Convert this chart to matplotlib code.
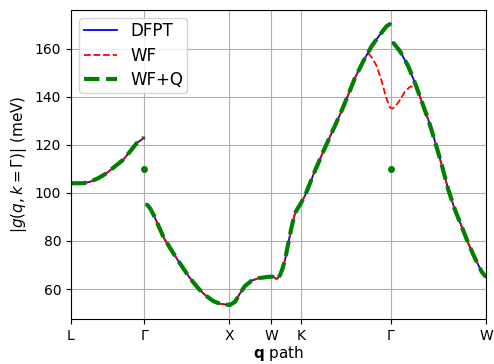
import numpy as np
import matplotlib
matplotlib.use("Agg")
import matplotlib.pyplot as plt

nan = np.nan

# high-symmetry points along the q path (FCC, units of 2pi/a)
tick_labels = ["L", r"$\Gamma$", "X", "W", "K", r"$\Gamma$", "W"]
tick_pos = [0.0, 0.866, 1.866, 2.366, 2.720, 3.781, 4.899]

# DFPT: |g| along path (NaN = break at Gamma)
q_dfpt = [0.000, 0.145, 0.224, 0.322, 0.421, 0.519, 0.617, 0.697, 0.776, 0.835, 0.862,
          0.866,
          0.890, 0.933, 0.980, 1.019, 1.059, 1.098, 1.149, 1.208, 1.267, 1.326, 1.385,
          1.444, 1.503, 1.562, 1.621, 1.680, 1.759, 1.838, 1.877, 1.936, 1.995, 2.054,
          2.133, 2.211, 2.329, 2.385, 2.420, 2.438, 2.467, 2.497, 2.526, 2.565, 2.605,
          2.644, 2.675, 2.703, 2.762, 2.821, 2.880, 2.978, 3.077, 3.175, 3.273, 3.352,
          3.450, 3.549, 3.647, 3.726, 3.773,
          3.781,
          3.800, 3.884, 3.982, 4.061, 4.140, 4.218, 4.297, 4.376, 4.454, 4.533, 4.612,
          4.690, 4.769, 4.848, 4.899]
g_dfpt = [104.0, 104.0, 104.6, 106.1, 108.2, 111.0, 113.8, 117.2, 120.7, 122.2, 123.0,
          nan,
          95.4, 93.6, 90.5, 87.4, 84.2, 81.1, 78.3, 74.9, 71.7, 68.6, 65.5,
          62.8, 60.3, 58.2, 56.5, 55.0, 53.9, 53.5, 53.4, 54.7, 58.2, 61.3,
          63.5, 64.5, 65.1, 65.1, 64.3, 64.4, 65.8, 68.5, 72.1, 79.0, 86.0,
          91.5, 93.5, 95.0, 98.8, 104.0, 109.2, 117.2, 124.9, 132.5, 140.8, 147.8,
          154.7, 161.0, 165.8, 169.3, 170.4,
          nan,
          162.6, 158.9, 152.6, 145.7, 138.0, 130.4, 121.4, 111.7, 101.3, 92.9, 86.0,
          79.0, 72.8, 67.2, 65.0]

# WF+Q coincides with DFPT everywhere in the reference
q_wfq = q_dfpt
g_wfq = g_dfpt

# WF deviates from DFPT around the second Gamma (continuous there)
q_wf_dev = [3.450, 3.490, 3.515, 3.553, 3.608, 3.668, 3.719, 3.766, 3.793, 3.830,
            3.880, 3.940, 4.000, 4.040, 4.081]
g_wf_dev = [154.7, 157.5, 157.8, 156.2, 152.8, 146.4, 139.8, 135.5, 135.0, 136.0,
            138.5, 142.0, 144.1, 144.2, 143.6]

# WF+Q value exactly at Gamma (dots)
q_gamma_dots = [0.866, 3.781]
g_gamma_dots = [110.0, 110.0]

q_wf = [q for q in q_dfpt if q < 3.45] + q_wf_dev + [q for q in q_dfpt if q > 4.09]
g_wf = ([g for q, g in zip(q_dfpt, g_dfpt) if q < 3.45] + g_wf_dev +
        [g for q, g in zip(q_dfpt, g_dfpt) if q > 4.09])

fig = plt.figure(figsize=(4.94, 3.64), dpi=100)
ax = fig.add_subplot(111)
fig.subplots_adjust(left=71/494, right=486/494, bottom=1-319/364, top=1-9.5/364)

ax.plot(q_dfpt, g_dfpt, color="b", lw=1.3, label="DFPT")
ax.plot(q_wf, g_wf, color="r", lw=1.3, ls="--", label="WF")
ax.plot(q_wfq, g_wfq, color="g", lw=3, ls="--", label="WF+Q")
ax.plot(q_gamma_dots, g_gamma_dots, "o", color="g", ms=4, label="_nolegend_")

ax.set_xlim(tick_pos[0], tick_pos[-1])
ax.set_xticks(tick_pos)
ax.set_xticklabels(tick_labels)
ax.grid(True)
ax.tick_params(labelsize=10)
ax.set_xlabel(r"$\mathbf{q}$ path", fontsize=11, labelpad=1)
ax.set_ylabel(r"$|g(q, k=\Gamma)|$ (meV)", fontsize=11)
ax.legend(loc="upper left", fontsize=12, labelspacing=0.4, borderpad=0.25)

fig.savefig("out.png", dpi=100)
